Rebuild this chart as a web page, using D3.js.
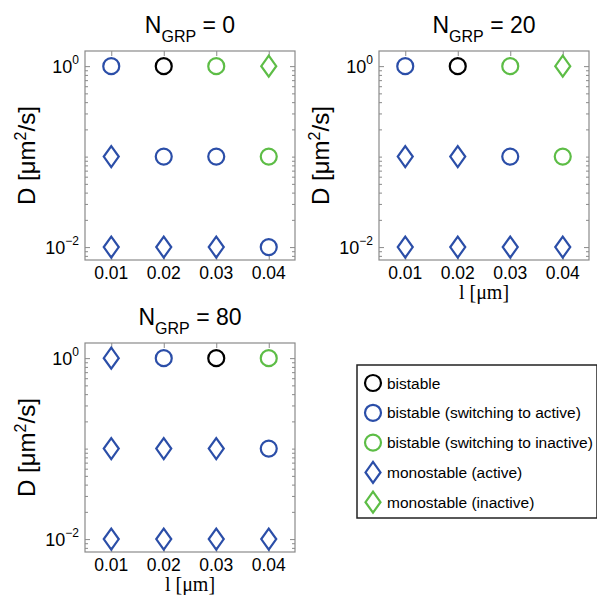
<!DOCTYPE html>
<html>
<head>
<meta charset="utf-8">
<script src="https://cdn.jsdelivr.net/npm/d3@7"></script>
<style>
  body { margin: 0; background: #fff; }
  svg { display: block; font-family: "Liberation Sans", Arial, sans-serif; }
</style>
</head>
<body>
<div id="chart-area"></div>
<script>
// x values (l in um) and y values (D in um^2/s)
var lengths = [0.01, 0.02, 0.03, 0.04];
var diffusions = [1, 0.1, 0.01];
var nGrp = ["0", "20", "80"];

// state codes per panel, rows follow diffusions, columns follow lengths
// B = bistable, BA = bistable (switching to active), BI = bistable (switching to inactive)
// MA = monostable (active), MI = monostable (inactive)
var states0 = [
    ["BA", "B", "BI", "MI"],
    ["MA", "BA", "BA", "BI"],
    ["MA", "MA", "MA", "BA"]
];
var states20 = [
    ["BA", "B", "BI", "MI"],
    ["MA", "MA", "BA", "BI"],
    ["MA", "MA", "MA", "MA"]
];
var states80 = [
    ["MA", "BA", "B", "BI"],
    ["MA", "MA", "MA", "BA"],
    ["MA", "MA", "MA", "MA"]
];

var legendCodes = ["B", "BA", "BI", "MA", "MI"];
var legendLabels = ["bistable", "bistable (switching to active)", "bistable (switching to inactive)",
    "monostable (active)", "monostable (inactive)"];

var blue = "#2b4ea8", green = "#5dbd46";
var style = {
    B: {shape: "circle", color: "#000"},
    BA: {shape: "circle", color: blue},
    BI: {shape: "circle", color: green},
    MA: {shape: "diamond", color: blue},
    MI: {shape: "diamond", color: green}
};

var svg = d3.select("#chart-area").append("svg")
    .attr("width", 597)
    .attr("height", 595);

var w = 210, h = 209;
var panels = [
    {left: 85, top: 51, n: nGrp[0], states: states0, xlabel: false},
    {left: 379, top: 51, n: nGrp[1], states: states20, xlabel: true},
    {left: 85, top: 343, n: nGrp[2], states: states80, xlabel: true}
];

var x = d3.scaleLinear().domain([0.005, 0.045]).range([0, w]);
var y = d3.scaleLog().domain([0.0072, 1.47]).range([h, 0]);

function drawMarker(g, code, cx, cy) {
    var s = style[code];
    if (s.shape == "circle") {
        g.append("circle")
            .attr("cx", cx).attr("cy", cy).attr("r", 8)
            .attr("fill", "none")
            .attr("stroke", s.color)
            .attr("stroke-width", 2.2);
    } else {
        var dx = 7.5, dy = 10.5;
        g.append("path")
            .attr("d", "M" + cx + "," + (cy - dy) + "L" + (cx + dx) + "," + cy +
                "L" + cx + "," + (cy + dy) + "L" + (cx - dx) + "," + cy + "Z")
            .attr("fill", "none")
            .attr("stroke", s.color)
            .attr("stroke-width", 2.2);
    }
}

var majorY = [1, 0.01];
var minorY = y.ticks().filter(function(t){ return majorY.indexOf(t) < 0; });

panels.forEach(function(p){
    var g = svg.append("g").attr("transform", "translate(" + p.left + "," + p.top + ")");

    // inward ticks on all four sides
    var axisColor = "#8a8a8a";
    [[d3.axisBottom, h], [d3.axisTop, 0]].forEach(function(a){
        var ax = g.append("g")
            .attr("transform", "translate(0," + a[1] + ")")
            .call(a[0](x).tickValues(lengths).tickSize(-5).tickFormat(""));
        ax.select(".domain").remove();
        ax.selectAll("line").attr("stroke", axisColor);
    });
    [[d3.axisLeft, 0], [d3.axisRight, w]].forEach(function(a){
        var major = g.append("g")
            .attr("transform", "translate(" + a[1] + ",0)")
            .call(a[0](y).tickValues(majorY).tickSize(-5).tickFormat(""));
        major.select(".domain").remove();
        major.selectAll("line").attr("stroke", axisColor);
        var minor = g.append("g")
            .attr("transform", "translate(" + a[1] + ",0)")
            .call(a[0](y).tickValues(minorY).tickSize(-3).tickFormat(""));
        minor.select(".domain").remove();
        minor.selectAll("line").attr("stroke", axisColor);
    });

    g.append("rect")
        .attr("width", w).attr("height", h)
        .attr("fill", "none")
        .attr("stroke", axisColor)
        .attr("stroke-width", 1.2);

    // x tick labels
    g.selectAll(".xlab").data(lengths).enter()
        .append("text")
        .attr("x", function(d){ return x(d); })
        .attr("y", h + 19)
        .attr("text-anchor", "middle")
        .attr("font-size", 17.5)
        .text(function(d){ return d3.format(".2f")(d); });

    // y tick labels 10^n
    majorY.forEach(function(d){
        var t = g.append("text")
            .attr("x", -6)
            .attr("y", y(d) + 7)
            .attr("text-anchor", "end")
            .attr("font-size", 18);
        t.append("tspan").text("10");
        t.append("tspan").attr("dy", -9).attr("font-size", 12)
            .text(Math.round(Math.log10(d)) == 0 ? "0" : "\u22122");
    });

    // y label
    var yl = g.append("text")
        .attr("transform", "translate(-50," + (h / 2) + ") rotate(-90)")
        .attr("text-anchor", "middle")
        .attr("font-size", 24);
    yl.append("tspan").text("D [\u03bcm");
    yl.append("tspan").attr("dy", -9).attr("font-size", 16).text("2");
    yl.append("tspan").attr("dy", 9).text("/s]");

    // title
    var tt = g.append("text")
        .attr("x", w / 2)
        .attr("y", -18)
        .attr("text-anchor", "middle")
        .attr("font-size", 23);
    tt.append("tspan").text("N");
    tt.append("tspan").attr("dy", 9).attr("font-size", 16).text("GRP");
    tt.append("tspan").attr("dy", -9).text(" = " + p.n);

    if (p.xlabel) {
        g.append("text")
            .attr("x", w / 2)
            .attr("y", h + 39)
            .attr("text-anchor", "middle")
            .attr("font-family", "Liberation Serif, serif")
            .attr("font-size", 20)
            .text("l [\u03bcm]");
    }

    // markers
    diffusions.forEach(function(dv, i){
        lengths.forEach(function(lv, j){
            drawMarker(g, p.states[i][j], x(lv), y(dv));
        });
    });
});

// legend
var lg = svg.append("g").attr("transform", "translate(357,365)");
lg.append("rect")
    .attr("width", 240).attr("height", 153)
    .attr("fill", "#fff")
    .attr("stroke", "#222")
    .attr("stroke-width", 1.5);
legendCodes.forEach(function(c, i){
    var cy = 18 + i * 29.8;
    drawMarker(lg, c, 16, cy);
    lg.append("text")
        .attr("x", 30)
        .attr("y", cy + 5.5)
        .attr("font-size", 15.5)
        .text(legendLabels[i]);
});
</script>
</body>
</html>
